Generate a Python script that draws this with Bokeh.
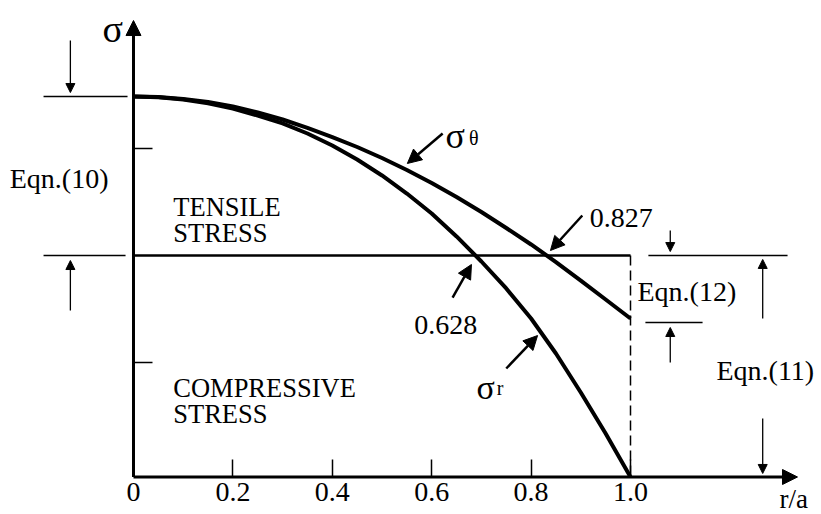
from bokeh.plotting import figure
from bokeh.models import Range1d, Arrow, NormalHead, Label, FixedTicker
from bokeh.embed import file_html
from bokeh.resources import INLINE

# ---- data ----
r_over_a = [0.00, 0.05, 0.10, 0.15, 0.20, 0.25, 0.30, 0.35, 0.40, 0.45, 0.50,
            0.55, 0.60, 0.65, 0.70, 0.75, 0.80, 0.85, 0.90, 0.95, 1.00]
sigma_theta = [1.486, 1.481, 1.463, 1.435, 1.393, 1.336, 1.271, 1.192, 1.107, 1.014, 0.911,
               0.799, 0.678, 0.547, 0.407, 0.257, 0.103, -0.061, -0.234, -0.411, -0.589]
sigma_r = [1.486, 1.479, 1.458, 1.422, 1.374, 1.308, 1.234, 1.140, 1.028, 0.897, 0.748,
           0.579, 0.393, 0.178, -0.056, -0.308, -0.589, -0.916, -1.280, -1.664, -2.070]
x_ticks = [0, 0.2, 0.4, 0.6, 0.8, 1.0]
x_tick_labels = ["0", "0.2", "0.4", "0.6", "0.8", "1.0"]
y_ticks = [-1, 1]
crossing_labels = ["0.827", "0.628"]

FONT = "Liberation Serif"
FS = "28px"
FS_CAPS = "26.5px"
Y_AXIS_BOTTOM = -2.07

p = figure(width=821, height=514, output_backend="svg", toolbar_location=None,
           x_range=Range1d(-0.2676, 1.3843), y_range=Range1d(-2.4206, 2.3832),
           min_border=0, min_border_left=0, min_border_right=0,
           min_border_top=0, min_border_bottom=0)
p.outline_line_color = None
p.xgrid.visible = False
p.ygrid.visible = False
p.background_fill_color = "white"
p.border_fill_color = "white"

# x axis
xa = p.xaxis[0]
xa.fixed_location = Y_AXIS_BOTTOM
xa.ticker = FixedTicker(ticks=x_ticks)
xa.major_label_overrides = {t: s for t, s in zip(x_ticks, x_tick_labels)}
xa.axis_line_color = None
xa.major_tick_in = 17
xa.major_tick_out = 0
xa.major_tick_line_width = 1.5
xa.major_tick_line_color = "black"
xa.minor_tick_line_color = None
xa.major_label_text_font = FONT
xa.major_label_text_font_size = FS
xa.major_label_text_color = "black"
xa.major_label_standoff = 6

# y axis
ya = p.yaxis[0]
ya.fixed_location = 0
ya.ticker = FixedTicker(ticks=y_ticks)
ya.axis_line_color = None
ya.major_tick_in = 19
ya.major_tick_out = 0
ya.major_tick_line_width = 1.5
ya.major_tick_line_color = "black"
ya.minor_tick_line_color = None
ya.major_label_text_color = None

# axis arrows
p.add_layout(Arrow(end=NormalHead(size=15, fill_color="black", line_color="black"),
                   x_start=0, y_start=Y_AXIS_BOTTOM, x_end=1.336, y_end=Y_AXIS_BOTTOM,
                   line_width=3, line_color="black"))
p.add_layout(Arrow(end=NormalHead(size=15, fill_color="black", line_color="black"),
                   x_start=0, y_start=Y_AXIS_BOTTOM, x_end=0, y_end=2.196,
                   line_width=3, line_color="black"))

# zero line and dashed r/a = 1 line
p.line([0, 1.0], [0, 0], line_width=2.5, line_color="black")
p.line([1.0, 1.0], [0, Y_AXIS_BOTTOM], line_width=1.5, line_color="black", line_dash="10 5")

# curves
p.line(r_over_a, sigma_theta, line_width=4, line_color="black")
p.line(r_over_a, sigma_r, line_width=4, line_color="black")

# dimension lines
p.segment(x0=[-0.181, -0.181, 1.036, 1.030], y0=[1.486, 0, 0, -0.626],
          x1=[-0.012, -0.016, 1.316, 1.145], y1=[1.486, 0, 0, -0.626],
          line_width=1.3, line_color="black")

def thin_arrow(x, y0, y1):
    p.add_layout(Arrow(end=NormalHead(size=9, fill_color="black", line_color="black"),
                       x_start=x, y_start=y0, x_end=x, y_end=y1,
                       line_width=1.3, line_color="black"))

thin_arrow(-0.127, 2.009, 1.523)
thin_arrow(-0.127, -0.514, -0.047)
thin_arrow(1.080, 0.234, 0.037)
thin_arrow(1.080, -1.0, -0.673)
thin_arrow(1.266, -0.589, -0.037)
thin_arrow(1.266, -1.523, -2.037)

def pointer(x0, y0, x1, y1):
    p.add_layout(Arrow(end=NormalHead(size=14, fill_color="black", line_color="black"),
                       x_start=x0, y_start=y0, x_end=x1, y_end=y1,
                       line_width=2.5, line_color="black"))

pointer(0.622, 1.140, 0.551, 0.860)   # sigma_theta
pointer(0.903, 0.374, 0.839, 0.047)   # 0.827
pointer(0.642, -0.393, 0.680, -0.084) # 0.628
pointer(0.750, -1.056, 0.813, -0.748) # sigma_r

def label(x, y, text, size=FS, baseline="alphabetic", align="left"):
    p.add_layout(Label(x=x, y=y, text=text, text_font=FONT, text_font_size=size,
                       text_color="black", text_baseline=baseline, text_align=align))

label(-0.249, 0.720, "Eqn.(10)", baseline="middle")
label(0.080, 0.449, "TENSILE", size=FS_CAPS)
label(0.080, 0.206, "STRESS", size=FS_CAPS)
label(0.080, -1.243, "COMPRESSIVE", size=FS_CAPS)
label(0.080, -1.477, "STRESS", size=FS_CAPS)
label(0.918, 0.346, crossing_labels[0])
label(0.565, -0.654, crossing_labels[1])
label(1.014, -0.336, "Eqn.(12)", baseline="middle")
label(1.173, -1.075, "Eqn.(11)", baseline="middle")
label(1.300, -2.28, "r/a", size="27px")
label(-0.0624, 2.121, "σ", size="38px")
label(0.628, 1.121, "σ", size="36px")
label(0.675, 1.102, "θ", size="20px")
label(0.690, -1.234, "σ", size="34px")
label(0.731, -1.243, "r", size="20px")

open("out.html", "w").write(file_html(p, INLINE))
